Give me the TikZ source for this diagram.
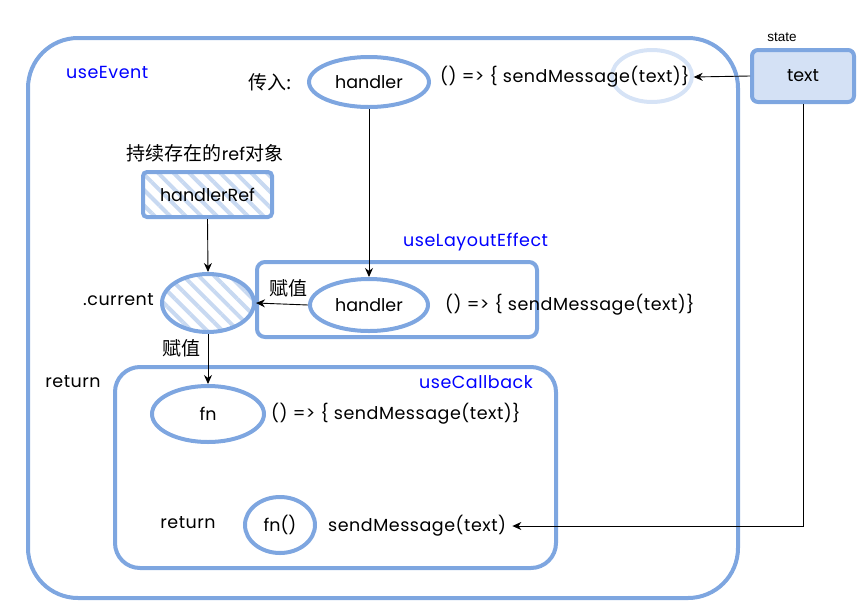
\documentclass[tikz,border=0pt]{standalone}
\usepackage{fontspec}
\setmainfont{Poppins}
\newfontfamily\cjk{Noto Sans CJK SC}
\newfontfamily\arialf{Liberation Sans}
\newfontfamily\codefont[LetterSpace=3]{Poppins}
\usetikzlibrary{arrows.meta,patterns.meta,shapes.geometric}
\definecolor{myblue}{HTML}{7EA6E0}
\definecolor{lightfill}{HTML}{D4E1F5}
\definecolor{lightring}{HTML}{D6E3F6}
\definecolor{hatchc}{HTML}{C8D9F1}
\definecolor{lblblue}{HTML}{0000FF}
\newcommand{\mainsz}{\fontsize{17.5}{20}\selectfont}
\newcommand{\cjksz}{\cjk\fontsize{19}{21}\selectfont}
\begin{document}
\begin{tikzpicture}[x=1pt,y=-1pt,
  font=\mainsz,
  bline/.style={draw=myblue,line width=4pt},
  ell/.style={bline,ellipse,inner sep=0pt},
  boxs/.style={bline,rectangle,inner sep=0pt},
  hatch/.style={pattern={Lines[angle=-45,distance=11pt,line width=4pt]},pattern color=hatchc},
  arr/.style={-{Stealth[length=9pt,width=8pt]},black,line width=0.9pt},
  lbl/.style={inner sep=0pt},
  codel/.style={inner sep=0pt,font=\codefont\mainsz},
  bluelbl/.style={inner sep=0pt,text=lblblue,font=\codefont\mainsz},
  cjkl/.style={inner sep=0pt,font=\cjksz},
]
\useasboundingbox (0,0) rectangle (868,606);
% containers
\node[boxs,rounded corners=50pt,minimum width=710pt,minimum height=560pt] (ue) at (383,318) {};
\node[bluelbl,anchor=west] (uel) at (66,72) {useEvent};
\node[boxs,rounded corners=8pt,minimum width=280pt,minimum height=75pt] (ule) at (397,299.5) {};
\node[bluelbl,anchor=west] (ulel) at (403,242) {useLayoutEffect};
\node[boxs,rounded corners=25pt,minimum width=441pt,minimum height=201pt] (ucb) at (335.5,467.5) {};
\node[bluelbl,anchor=east] (ucbl) at (533,382) {useCallback};
% state
\node[boxs,fill=lightfill,rounded corners=6pt,minimum width=102pt,minimum height=52pt] (txt) at (803,76) {text};
\node[lbl,font=\arialf\fontsize{13.5}{15}\selectfont] (st) at (782,37) {state};
% top row
\node[cjkl,anchor=west] (cr) at (248,82) {传入:};
\node[ell,minimum width=120pt,minimum height=50pt] (h1) at (369,82) {handler};
\node[ell,draw=lightring,minimum width=80pt,minimum height=52pt] (hl) at (652,76) {};
\node[codel,anchor=west] (c1) at (440,77) {() => \{ sendMessage(text)\}};
% handlerRef
\node[cjkl] (pl) at (205,153) {持续存在的{\normalfont\mainsz ref}对象};
\node[boxs,hatch,rounded corners=4pt,minimum width=129pt,minimum height=45pt] (hr) at (207.5,194.5) {handlerRef};
% current
\node[ell,hatch,minimum width=92pt,minimum height=58pt] (cur) at (208,303) {};
\node[codel,anchor=east] (curl) at (154,300) {.current};
% layout effect content
\node[ell,minimum width=118pt,minimum height=52pt] (h2) at (369,305) {handler};
\node[codel,anchor=west] (c2) at (445,305) {() => \{ sendMessage(text)\}};
\node[cjkl] (fz1) at (288,288) {赋值};
% callback
\node[codel] (ret1) at (73,382) {return};
\node[cjkl] (fz2) at (181,348) {赋值};
\node[ell,minimum width=112pt,minimum height=56pt] (fn) at (208,414) {fn};
\node[codel,anchor=west] (c3) at (271,414) {() => \{ sendMessage(text)\}};
\node[codel] (ret2) at (188,523) {return};
\node[ell,minimum width=70pt,minimum height=56pt] (fnc) at (280,525) {fn()};
\node[codel,anchor=west] (sm) at (328,526) {sendMessage(text)};
% connectors
\draw[arr] (txt.west) -- ([xshift=4pt]c1.east);
\draw[arr] (txt.south) |- ([xshift=6pt]sm.east);
\draw[arr] (h1.south) -- (h2.north);
\draw[arr] (hr.south) -- (cur.north);
\draw[arr] (h2.west) -- (cur.east);
\draw[arr] (cur.south) -- (fn.north);
\end{tikzpicture}
\end{document}
